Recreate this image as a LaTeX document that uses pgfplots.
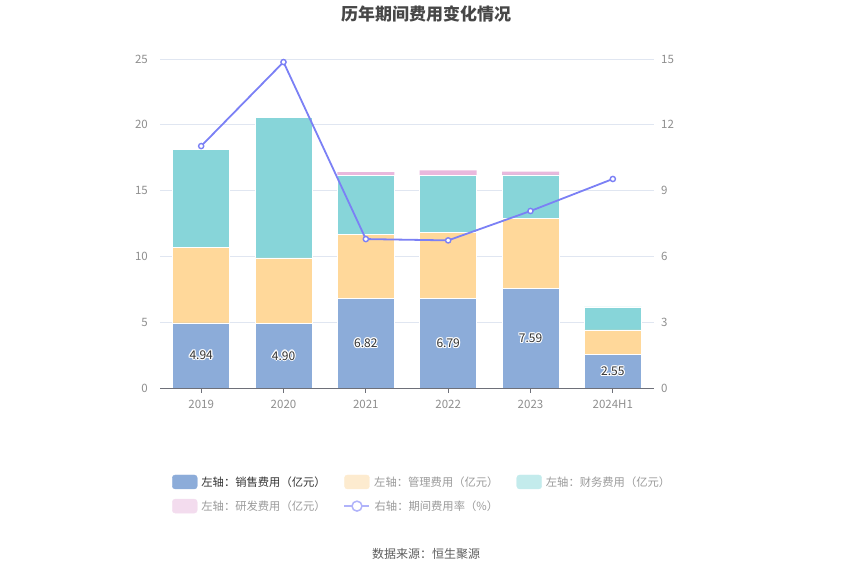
\documentclass[border=0pt]{standalone}
\usepackage{fontspec}
\setmainfont{Noto Sans CJK SC}
\usepackage{pgfplots}
\pgfplotsset{compat=1.18}
\definecolor{cSales}{HTML}{8CACD9}
\definecolor{cMgmt}{HTML}{FFD89A}
\definecolor{cFin}{HTML}{87D5D9}
\definecolor{cRD}{HTML}{E9B8DD}
\definecolor{cLine}{HTML}{7B80F5}
\definecolor{cGrid}{HTML}{E0E6F1}
\definecolor{cAxis}{HTML}{6E7079}
\definecolor{cTick}{HTML}{8E8E8E}
\definecolor{cDark}{HTML}{333333}
\definecolor{cLegGray}{HTML}{9A9A9A}
\definecolor{cMgmtL}{HTML}{FDEBCF}
\definecolor{cFinL}{HTML}{C3EBEC}
\definecolor{cRDL}{HTML}{F3DCEE}
\definecolor{cLineL}{HTML}{B0B3FA}
\newcommand\hl[3]{\rlap{\hspace*{#1}\raisebox{#2}{\color{white}#3}}}
\newcommand\halo[1]{\leavevmode\begingroup\hl{1.2bp}{0bp}{#1}\hl{-1.2bp}{0bp}{#1}\hl{0bp}{1.2bp}{#1}\hl{0bp}{-1.2bp}{#1}\hl{.85bp}{.85bp}{#1}\hl{-.85bp}{.85bp}{#1}\hl{.85bp}{-.85bp}{#1}\hl{-.85bp}{-.85bp}{#1}{\color{cDark}#1}\endgroup}
\pgfplotsset{
  base/.style={at={(160bp,187bp)}, anchor=south west, scale only axis,
    width=494bp, height=329bp, xmin=-0.5, xmax=5.5,
    /pgf/number format/assume math mode=true,
    tick label style={font=\fontsize{11.5bp}{13bp}\selectfont, text=cTick}},
}
\begin{document}
\begin{tikzpicture}
\path[use as bounding box] (0,0) rectangle (850bp,575bp);
\node[font=\fontsize{17bp}{20bp}\selectfont\bfseries, text=cDark!90] at (426bp,561bp) {历年期间费用变化情况};
\node[font=\fontsize{12bp}{14bp}\selectfont, text=cDark!80] at (426bp,21bp) {数据来源：恒生聚源};
\begin{axis}[base, ymin=0, ymax=25, ytick={0,5,...,25},
  ybar stacked, bar width=57bp,
  xtick={0,...,5}, xticklabels={2019,2020,2021,2022,2023,2024H1},
  axis x line*=bottom, axis y line*=left,
  x axis line style={cAxis, line width=0.8bp, -},
  y axis line style={draw=none},
  ytick style={draw=none}, xtick style={cAxis, line width=0.8bp},
  major tick length=5bp, tick align=outside,
  ymajorgrids, grid style={cGrid, line width=0.8bp},
  yticklabel style={inner sep=0pt, xshift=-7bp, anchor=east},
  xticklabel style={inner sep=0pt, yshift=-7bp, anchor=north},
]
\addplot[fill=cSales, draw=white, line width=0.5bp] coordinates {(0,4.94) (1,4.90) (2,6.82) (3,6.79) (4,7.59) (5,2.55)};
\addplot[fill=cMgmt, draw=white, line width=0.5bp] coordinates {(0,5.77) (1,4.98) (2,4.88) (3,5.04) (4,5.28) (5,1.86)};
\addplot[fill=cFin, draw=white, line width=0.5bp] coordinates {(0,7.45) (1,10.71) (2,4.43) (3,4.30) (4,3.32) (5,1.75)};
\addplot[fill=cRD, draw=none] coordinates {(0,0) (1,0) (2,0.28) (3,0.41) (4,0.25) (5,0)};
\end{axis}
\begin{axis}[base, ymin=0, ymax=25, hide axis]
\addplot[draw=none, mark=none, point meta=explicit symbolic,
  nodes near coords={\halo{\pgfplotspointmeta}},
  every node near coord/.append style={anchor=center, inner sep=0pt, font=\fontsize{12bp}{14bp}\selectfont}]
  table[meta=label] {
x y label
0 2.47 4.94
1 2.45 4.90
2 3.41 6.82
3 3.395 6.79
4 3.795 7.59
5 1.275 2.55
};
\end{axis}
\begin{axis}[base, ymin=0, ymax=15, ytick={0,3,...,15},
  axis y line*=right, axis x line=none,
  y axis line style={draw=none}, ytick style={draw=none},
  yticklabel style={inner sep=0pt, xshift=7bp, anchor=west},
  legend columns=3,
  legend style={draw=none, fill=none, inner sep=0pt, anchor=north west,
    at={(rel axis cs:0.024,-0.262)},
    font=\fontsize{11.3bp}{13bp}\selectfont,
    row sep=9bp,
    /tikz/every odd column/.append style={column sep=2bp},
    /tikz/every even column/.append style={column sep=16bp}},
]
\addlegendimage{legend image code/.code={\fill[cSales,rounded corners=3bp] (0bp,-7bp) rectangle (25bp,7bp);}}
\addlegendentry{\color{cDark}左轴：销售费用（亿元）}
\addlegendimage{legend image code/.code={\fill[cMgmtL,rounded corners=3bp] (0bp,-7bp) rectangle (25bp,7bp);}}
\addlegendentry{\color{cLegGray}左轴：管理费用（亿元）}
\addlegendimage{legend image code/.code={\fill[cFinL,rounded corners=3bp] (0bp,-7bp) rectangle (25bp,7bp);}}
\addlegendentry{\color{cLegGray}左轴：财务费用（亿元）}
\addlegendimage{legend image code/.code={\fill[cRDL,rounded corners=3bp] (0bp,-7bp) rectangle (25bp,7bp);}}
\addlegendentry{\color{cLegGray}左轴：研发费用（亿元）}
\addplot[cLine, line width=1.8bp, mark=*, mark size=2.6bp,
  mark options={fill=white, draw=cLine, line width=1.4bp},
  legend image code/.code={\draw[cLineL, line width=1.5bp] (0bp,0bp) -- (25bp,0bp); \draw[cLineL, fill=white, line width=1.5bp] (12.5bp,0bp) circle (5bp);}]
  coordinates {(0,11.03) (1,14.86) (2,6.79) (3,6.73) (4,8.07) (5,9.53)};
\addlegendentry{\color{cLegGray}右轴：期间费用率（\%）}
\end{axis}
\end{tikzpicture}
\end{document}
